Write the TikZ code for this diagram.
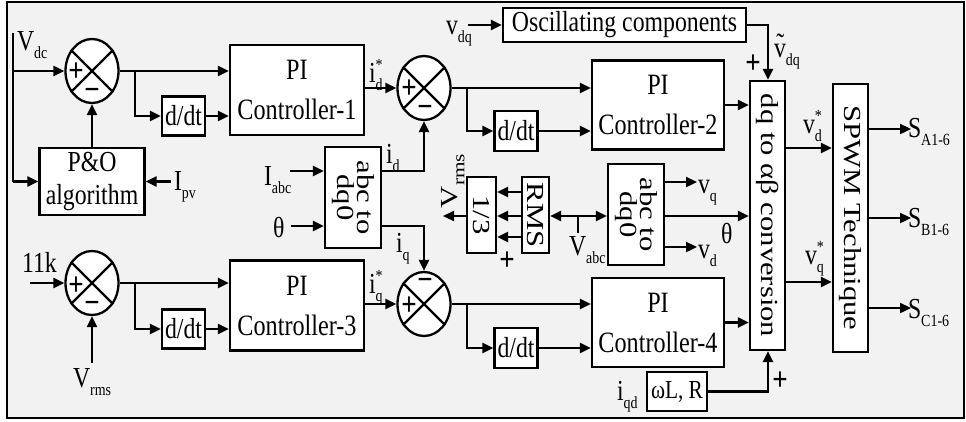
\documentclass[tikz,border=0pt]{standalone}
\usepackage{fontspec}
\setmainfont{Liberation Serif}[FakeStretch=0.82]
\newfontfamily\rotfont{Liberation Serif}[FakeStretch=1.25]
\usetikzlibrary{arrows.meta,shapes.geometric}
\definecolor{bggray}{HTML}{F2F2F2}
\newcommand\mysub[1]{\raisebox{-0.3em}{\fontsize{17}{17}\selectfont #1}}
\newcommand\mystar{\makebox[0pt][l]{\raisebox{0.38em}{\fontsize{17}{17}\selectfont *}}}
\newcommand\tildev{\makebox[0pt][l]{\hspace{0.08em}\raisebox{0.12em}{\char"02DC}}v}
\tikzset{
  ln/.style={line width=2.3pt},
  arr/.style={line width=2.3pt,-{Triangle[length=11pt,width=10pt]}},
  darr/.style={line width=2.3pt,{Triangle[length=11pt,width=10pt]}-{Triangle[length=11pt,width=10pt]}},
  blk/.style={draw,line width=2.3pt,fill=white,inner sep=0pt,align=center},
  pib/.style={blk,minimum width=134pt,minimum height=90pt,font=\fontsize{29.5}{40}\selectfont},
  ddt/.style={blk,minimum width=43pt,minimum height=39pt},
  sumn/.style={draw,ellipse,line width=2.3pt,fill=white,minimum width=53pt,minimum height=64pt,inner sep=0pt},
  lbl/.style={inner sep=0pt,outer sep=0pt},
  sgn/.style={inner sep=0pt,outer sep=0pt,font=\fontsize{33}{33}\selectfont\bfseries},
  rtxt/.style={inner sep=0pt,align=center,font=\rotfont\fontsize{24.5}{20}\selectfont,rotate=-90},
}
\begin{document}
\begin{tikzpicture}[x=1pt,y=-1pt,font=\fontsize{29}{33}\selectfont]
\useasboundingbox (0,0) rectangle (966,421);
\fill[white] (0,0) rectangle (966,421);
\draw[line width=2.5pt,fill=bggray] (7,2) rectangle (964,418);

% summing junctions
\node[sumn] (s1) at (92,71) {};
\node[sumn] (s2) at (424,88) {};
\node[sumn] (s3) at (92,283) {};
\node[sumn] (s4) at (424,304) {};
\foreach \s in {s1,s2,s3,s4} \draw[ln] (\s.45) -- (\s.225) (\s.135) -- (\s.315);
\node[sgn] (s1p) at (76,72) {+};
\node[sgn] (s1m) at (92,94) {−};
\node[sgn] (s2p) at (409,89) {+};
\node[sgn] (s2m) at (425,111) {−};
\node[sgn] (s3p) at (76,286) {+};
\node[sgn] (s3m) at (92,307) {−};
\node[sgn] (s4p) at (409,306) {+};
\node[sgn] (s4m) at (425,284) {−};

% blocks
\node[blk,minimum width=105pt,minimum height=67pt] (po) at (92,181.5) {P\&O\\algorithm};
\node[pib] (pi1) at (297,90) {PI\\Controller-1};
\node[pib] (pi3) at (297,305.5) {PI\\Controller-3};
\node[pib,minimum width=132pt,minimum height=89pt] (pi2) at (658,105) {PI\\Controller-2};
\node[pib,minimum width=132pt,minimum height=89pt] (pi4) at (658,322.5) {PI\\Controller-4};
\node[ddt] (d1) at (183.5,116) {d/dt};
\node[ddt] (d3) at (183.5,329) {d/dt};
\node[ddt,minimum height=40pt] (d2) at (516,131) {d/dt};
\node[ddt,minimum height=40pt] (d4) at (516,348) {d/dt};
\node[blk,minimum width=243pt,minimum height=34pt] (osc) at (624.5,25) {Oscillating components};
\node[blk,minimum width=35pt,minimum height=269pt] (dqab) at (767.5,215.5) {};
\node[rtxt] (dqabt) at (dqab.center) {dq to αβ conversion};
\node[blk,minimum width=35pt,minimum height=268pt] (spwm) at (850.5,218) {};
\node[rtxt] (spwmt) at (spwm.center) {SPWM Technique};
\node[blk,minimum width=56pt,minimum height=101pt] (adq1) at (353,197.5) {};
\node[rtxt] (adq1t) at (adq1.center) {abc to\\dq0};
\node[blk,minimum width=56pt,minimum height=101pt] (adq2) at (636,214.5) {};
\node[rtxt] (adq2t) at (adq2.center) {abc to\\dq0};
\node[blk,minimum width=29pt,minimum height=76pt] (third) at (481.5,215) {};
\node[rtxt] (thirdt) at (third.center) {1/3};
\node[blk,minimum width=27pt,minimum height=76pt] (rms) at (535.5,215) {};
\node[rtxt] (rmst) at (rms.center) {RMS};
\node[blk,minimum width=60pt,minimum height=39pt,font=\fontsize{26}{28}\selectfont] (wl) at (677,391.5) {ωL, R};

% V_dc feed
\coordinate (vt) at (13,33);
\coordinate (vb) at (13,181.5);
\draw[ln] (vt) -- (vb);
\draw[arr] (vt |- s1.west) -- (s1.west);
\draw[arr] (vb) -- (po.west);
\draw[arr] (po.north) -- (s1.south);
\coordinate (ipvs) at (171,181.5);
\draw[arr] (ipvs) -- (po.east);

% sum1 -> PI1
\draw[arr] (s1.east) -- (s1.east -| pi1.west);
\coordinate (b1) at (135,71);
\draw[arr] (b1) |- (d1.west);
\draw[arr] (d1.east) -- (d1.east -| pi1.west);

% PI1 -> sum2 -> PI2
\draw[arr] (pi1.east |- s2.west) -- (s2.west);
\draw[arr] (s2.east) -- (s2.east -| pi2.west);
\coordinate (b2) at (467,88);
\draw[arr] (b2) |- (d2.west);
\draw[arr] (d2.east) -- (d2.east -| pi2.west);
\draw[arr] (pi2.east) -- (pi2.east -| dqab.west);

% abc to dq0 (left)
\coordinate (iabcs) at (290,171);
\draw[arr] (iabcs) -- (iabcs -| adq1.west);
\coordinate (ths) at (291,226);
\draw[arr] (ths) -- (ths -| adq1.west);
\draw[arr] (iabcs -| adq1.east) -| (s2.south);
\draw[arr] (ths -| adq1.east) -| (s4.north);

% sum3 -> PI3
\coordinate (k11) at (30,283);
\draw[arr] (k11) -- (s3.west);
\draw[arr] (s3.east) -- (s3.east -| pi3.west);
\coordinate (b3) at (135,283);
\draw[arr] (b3) |- (d3.west);
\draw[arr] (d3.east) -- (d3.east -| pi3.west);
\coordinate (vrs) at (92,363);
\draw[arr] (vrs) -- (s3.south);

% PI3 -> sum4 -> PI4
\draw[arr] (pi3.east |- s4.west) -- (s4.west);
\draw[arr] (s4.east) -- (s4.east -| pi4.west);
\coordinate (b4) at (467,304);
\draw[arr] (b4) |- (d4.west);
\draw[arr] (d4.east) -- (d4.east -| pi4.west);
\draw[arr] (pi4.east) -- (pi4.east -| dqab.west);

% oscillating components
\coordinate (vdqs) at (468,25);
\draw[arr] (vdqs) -- (osc.west);
\coordinate (oc) at (768,25);
\draw[arr] (osc.east) -- (oc) -- (oc |- dqab.north);

% omega L, R
\coordinate (wc) at (768,391.5);
\draw[arr] (wl.east) -- (wc) -- (wc |- dqab.south);

% dq to alpha beta -> SPWM
\coordinate (vdy) at (800,148);
\draw[arr] (vdy -| dqab.east) -- (vdy -| spwm.west);
\coordinate (vqy) at (800,282);
\draw[arr] (vqy -| dqab.east) -- (vqy -| spwm.west);

% SPWM outputs
\coordinate (sa) at (911,129);
\coordinate (sb) at (911,218);
\coordinate (sc) at (911,308);
\draw[arr] (sa -| spwm.east) -- (sa);
\draw[arr] (sb -| spwm.east) -- (sb);
\draw[arr] (sc -| spwm.east) -- (sc);

% middle cluster
\coordinate (r1) at (510,192);
\coordinate (r2) at (510,216);
\coordinate (r3) at (510,237);
\draw[arr] (r1 -| rms.west) -- (r1 -| third.east);
\draw[arr] (r2 -| rms.west) -- (r2 -| third.east);
\draw[arr] (r3 -| rms.west) -- (r3 -| third.east);
\coordinate (vro) at (443,216);
\draw[arr] (vro -| third.west) -- (vro);
\coordinate (mid) at (578,216);
\draw[darr] (mid -| rms.east) -- (mid -| adq2.west);
\coordinate (vabt) at (578,233);
\draw[ln] (mid) -- (vabt);
\coordinate (vqe) at (697,182);
\coordinate (vde) at (697,247);
\draw[arr] (vqe -| adq2.east) -- (vqe);
\draw[arr] (vde -| adq2.east) -- (vde);
\draw[arr] (mid -| adq2.east) -- (mid -| dqab.west);

% labels
\node[lbl,anchor=base west] (lvdc) at (17,50) {V\mysub{dc}};
\node[lbl,anchor=base west] (lipv) at (174,190) {I\mysub{pv}};
\node[lbl,anchor=base west] (liabc) at (264,185) {I\mysub{abc}};
\node[lbl,anchor=base west] (lth1) at (273,237) {θ};
\node[lbl,anchor=base west] (lid) at (386,163) {i\mysub{d}};
\node[lbl,anchor=base west] (liq) at (396,252) {i\mysub{q}};
\node[lbl,anchor=base west] (lids) at (369,82) {i\mystar\mysub{d}};
\node[lbl,anchor=base west] (liqs) at (369,293) {i\mystar\mysub{q}};
\node[lbl,anchor=base west] (lvdq) at (446,34) {v\mysub{dq}};
\node[lbl,anchor=base west] (lvdqt) at (774,57) {\tildev\mysub{dq}};
\node[sgn] (ptop) at (753,64) {+};
\node[lbl,anchor=base west] (lvds) at (803,133) {v\mystar\mysub{d}};
\node[lbl,anchor=base west] (lvqs) at (805,264) {v\mystar\mysub{q}};
\node[lbl,anchor=base west] (lsa) at (908,137) {S\mysub{A1-6}};
\node[lbl,anchor=base west] (lsb) at (908,227) {S\mysub{B1-6}};
\node[lbl,anchor=base west] (lsc) at (908,318) {S\mysub{C1-6}};
\node[lbl,anchor=base west] (lvq) at (698,193) {v\mysub{q}};
\node[lbl,anchor=base west] (lvd) at (698,258) {v\mysub{d}};
\node[lbl,anchor=base west] (lth2) at (721,243) {θ};
\node[lbl,anchor=base west] (lvabc) at (569,255) {V\mysub{abc}};
\node[sgn] (pthird) at (507,261) {+};
\node[lbl,anchor=base west,rotate=90,font=\rotfont\fontsize{24.5}{26}\selectfont] (lvrmsr) at (457,208) {V\mysub{rms}};
\node[lbl,anchor=base west] (l11k) at (22,272) {11k};
\node[lbl,anchor=base west] (lvrms) at (73,387) {V\mysub{rms}};
\node[lbl,anchor=base west] (liqd) at (617,400) {i\mysub{qd}};
\node[sgn] (pbot) at (780,381) {+};
\end{tikzpicture}
\end{document}
